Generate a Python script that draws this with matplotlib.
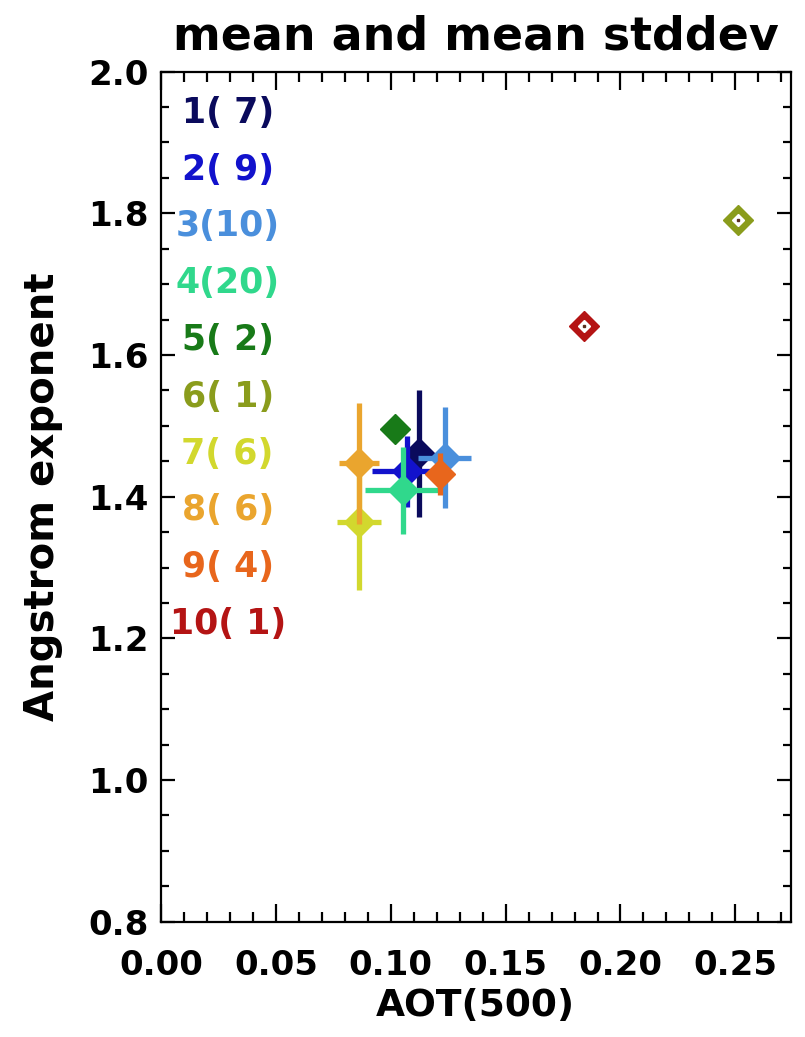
import matplotlib
matplotlib.use("Agg")
import matplotlib.pyplot as plt
from matplotlib.ticker import MultipleLocator

# ---- data ----
groups = [1, 2, 3, 4, 5, 6, 7, 8, 9, 10]
counts = [7, 9, 10, 20, 2, 1, 6, 6, 4, 1]
aot_mean = [0.1122, 0.1070, 0.1235, 0.1055, 0.1017, 0.2510, 0.0862, 0.0862, 0.1216, 0.1839]
aot_std = [0.003, 0.015, 0.0116, 0.0167, 0.003, 0.0, 0.0095, 0.0087, 0.004, 0.0]
ang_mean = [1.461, 1.436, 1.455, 1.409, 1.496, 1.790, 1.364, 1.447, 1.432, 1.641]
ang_std = [0.089, 0.050, 0.071, 0.061, 0.005, 0.0, 0.096, 0.085, 0.030, 0.0]
colors = ["#0a0a5c", "#1212cc", "#4a8fdc", "#30d88c", "#187a18",
          "#8a9c1c", "#d2d82e", "#eaa52e", "#e8661c", "#b41414"]
hollow = [False, False, False, False, False, True, False, False, False, True]

xticks = [0.00, 0.05, 0.10, 0.15, 0.20, 0.25]
yticks = [0.8, 1.0, 1.2, 1.4, 1.6, 1.8, 2.0]

FONT = "DejaVu Sans"
plt.rcParams["font.family"] = FONT
plt.rcParams["font.weight"] = "bold"

fig = plt.figure(figsize=(8.05, 10.37), dpi=100)
ax = fig.add_axes([0.200, 0.1112, 0.782, 0.8197])

for i in range(len(groups)):
    c = colors[i]
    ax.errorbar([aot_mean[i]], [ang_mean[i]], xerr=[aot_std[i]], yerr=[ang_std[i]],
                fmt="none", ecolor=c, elinewidth=3.8, capsize=0, zorder=2 + i)
    ax.plot([aot_mean[i]], [ang_mean[i]], marker="D", ms=15.5, color=c,
            mec=c, linestyle="none", zorder=2.5 + i)
    if hollow[i]:
        ax.plot([aot_mean[i]], [ang_mean[i]], marker="D", ms=6, color="white",
                mec="white", linestyle="none", zorder=2.6 + i)
        ax.plot([aot_mean[i]], [ang_mean[i]], marker="s", ms=1.8, color="#5a3020",
                mec="#5a3020", linestyle="none", zorder=2.7 + i)

# group labels
for i in range(len(groups)):
    label = "%d(%2d)" % (groups[i], counts[i])
    ax.text(0.0290, 1.942 - i * 0.0802, label, color=colors[i], fontsize=25,
            fontweight="bold", ha="center", va="center", zorder=20)

ax.set_xlim(0.0, 0.274)
ax.set_ylim(0.8, 2.0)
ax.set_xticks(xticks)
ax.set_yticks(yticks)
ax.set_xticklabels(["%.2f" % v for v in xticks])
ax.set_yticklabels(["%.1f" % v for v in yticks])
ax.xaxis.set_minor_locator(MultipleLocator(0.01))
ax.yaxis.set_minor_locator(MultipleLocator(0.05))
ax.tick_params(axis="both", which="both", direction="in", top=True, right=True,
               color="black", width=1.6)
ax.tick_params(axis="x", which="major", length=13, labelsize=24.5, pad=20)
ax.tick_params(axis="x", which="minor", length=7.5)
ax.tick_params(axis="y", which="major", length=10, labelsize=24.5, pad=9)
ax.tick_params(axis="y", which="minor", length=5.5)
for lab in ax.get_xticklabels() + ax.get_yticklabels():
    lab.set_fontweight("bold")
for s in ax.spines.values():
    s.set_linewidth(1.6)

ax.set_title("mean and mean stddev", fontsize=33, fontweight="bold", pad=16)
ax.set_xlabel("AOT(500)", fontsize=27, fontweight="bold", labelpad=4)
ax.set_ylabel("Angstrom exponent", fontsize=29, fontweight="bold", labelpad=18)

fig.savefig("out.png", dpi=100)
